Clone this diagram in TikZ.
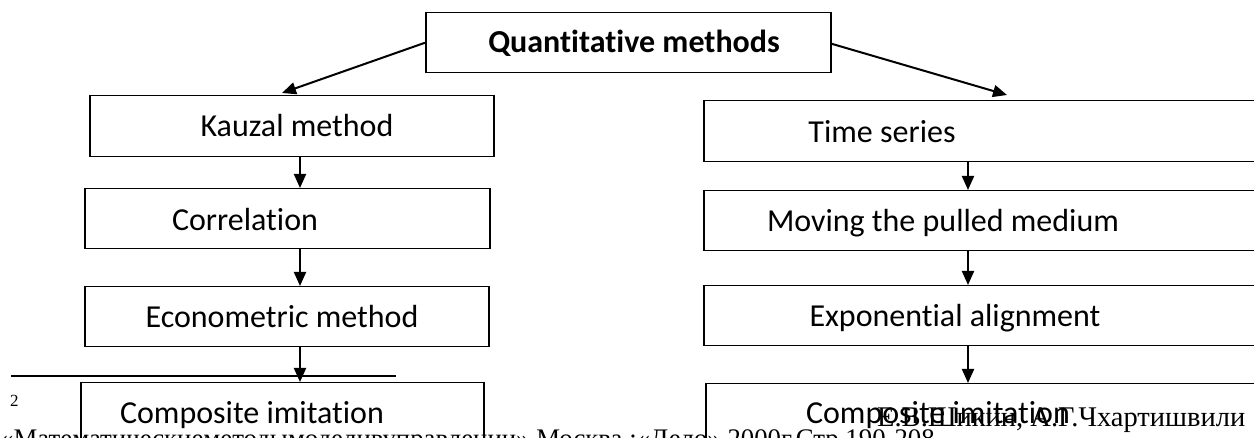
\documentclass[tikz,border=0pt]{standalone}
\usepackage{fontspec}
\setmainfont{Carlito}[Ligatures=NoCommon]
\newfontfamily\serifru{Liberation Serif}
\usetikzlibrary{arrows.meta}

\begin{document}
\begin{tikzpicture}[x=1pt,y=-1pt,
  box/.style={draw, line width=1.5pt, inner sep=0pt, anchor=north west},
  lbl/.style={font=\fontsize{32}{36}\selectfont, inner sep=0pt, anchor=base},
  flow/.style={line width=2pt, -{Triangle[length=14pt,width=12pt]}},
  note/.style={font=\serifru\fontsize{26.8}{30}\selectfont, inner sep=0pt, anchor=base west}]
\useasboundingbox (0,0) rectangle (1254,438);
\clip (0,0) rectangle (1254,438);

% root
\node[box, minimum width=405pt, minimum height=60pt] (root) at (425,12) {};
\node[lbl] (rootT) at (634,53) {\bfseries Quantitative methods};

% left column
\node[box, minimum width=404pt, minimum height=61pt] (kauzal) at (89,95) {};
\node[box, minimum width=405pt, minimum height=60pt] (corr)   at (84,188) {};
\node[box, minimum width=404pt, minimum height=60pt] (econ)   at (84,286) {};
\node[box, minimum width=403pt, minimum height=80pt] (compL)  at (80,382) {};
\node[lbl] (kauzalT) at (297,137) {Kauzal method};
\node[lbl] (corrT)   at (245,231) {Correlation};
\node[lbl] (econT)   at (282,328) {Econometric method};
\node[lbl] (compLT)  at (252,424) {Composite imitation};

% right column
\node[box, minimum width=570pt, minimum height=61pt] (ts)    at (703,100) {};
\node[box, minimum width=570pt, minimum height=60pt] (move)  at (703,190) {};
\node[box, minimum width=570pt, minimum height=60pt] (expo)  at (703,285) {};
\node[box, minimum width=570pt, minimum height=80pt] (compR) at (705,383) {};
\node[lbl] (tsT)    at (882,143) {Time series};
\node[lbl] (moveT)  at (943,232) {Moving the pulled medium};
\node[lbl] (expoT)  at (955,327) {Exponential alignment};
\node[lbl] (compRT) at (938,424) {Composite imitation};

% connectors
\coordinate (lx) at (300,0);
\coordinate (rx) at (968,0);
\draw[flow] (root.west) -- ([xshift=193pt,yshift=2pt]kauzal.north west);
\draw[flow] ([yshift=-1pt]root.east) -- ([xshift=304pt,yshift=5pt]ts.north west);
\draw[flow] (kauzal.south -| lx) -- (corr.north -| lx);
\draw[flow] (corr.south -| lx) -- (econ.north -| lx);
\draw[flow] (econ.south -| lx) -- (compL.north -| lx);
\draw[flow] (ts.south -| rx) -- (move.north -| rx);
\draw[flow] (move.south -| rx) -- (expo.north -| rx);
\draw[flow] (expo.south -| rx) -- (compR.north -| rx);

% footnote
\coordinate (ruleA) at (11,376);
\coordinate (ruleB) at (396,376);
\draw[line width=1.2pt] (ruleA) -- (ruleB);
\node[font=\serifru\fontsize{17}{20}\selectfont, inner sep=0pt, anchor=base west] (fnmark) at (10,407) {2};
\node[note, font=\serifru\fontsize{28.5}{30}\selectfont] (authors) at (877,427) {Е.В.Шикин, А.Г.Чхартишвили};
\node[note] (source) at (0,447) {«Математическиеметодымоделивуправлении» Москва :«Дело» 2000г.Стр.190-208.};
\end{tikzpicture}
\end{document}
